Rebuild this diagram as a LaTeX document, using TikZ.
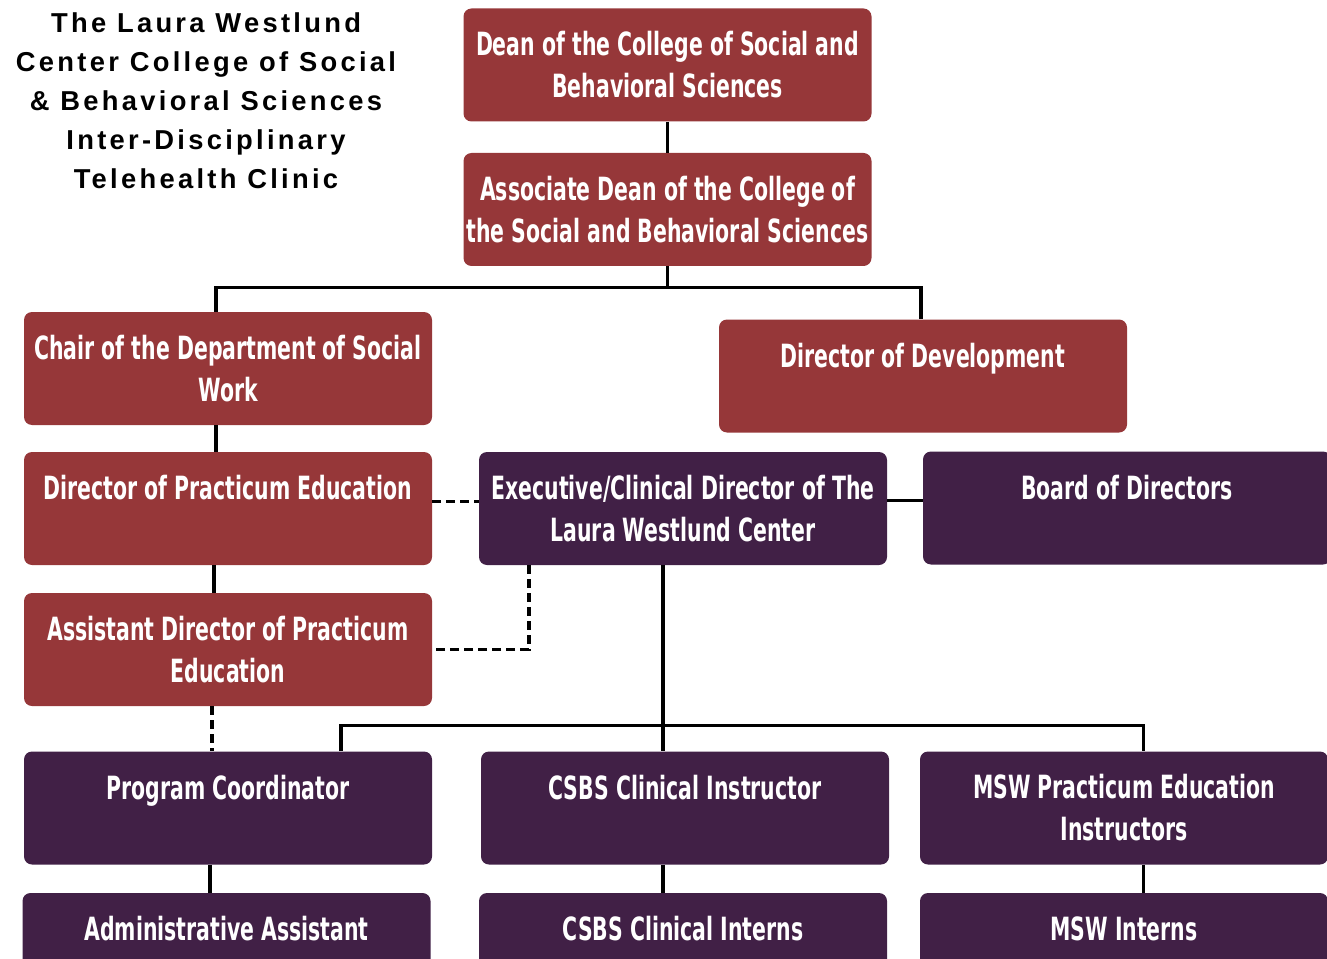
\documentclass[tikz,border=0pt]{standalone}
\usepackage{fontspec}
\setmainfont{Liberation Sans}
\newfontfamily\boxfont{DejaVu Sans Condensed Bold}[FakeStretch=0.71]
\newfontfamily\titlefont{Liberation Sans Bold}[LetterSpace=12]
\definecolor{boxred}{HTML}{963739}
\definecolor{boxpurple}{HTML}{412046}
\usetikzlibrary{positioning}

\begin{document}
\begin{tikzpicture}[x=0.75pt,y=-0.75pt,
	org/.style={rounded corners=6pt,minimum width=306pt,minimum height=84.75pt,
		inner sep=0pt,text=white,align=center,
		font=\boxfont\fontsize{24}{31.5}\selectfont},
	redbox/.style={org,fill=boxred},
	purplebox/.style={org,fill=boxpurple},
	link/.style={line width=2.4pt},
	dashlink/.style={link,dash pattern=on 6.75pt off 3.75pt}]
\useasboundingbox (0,0) rectangle (1327,959);

% heading
\node[font=\titlefont\fontsize{20.5}{29.25}\selectfont,align=center,anchor=north] (title) at (206,8)
	{The Laura Westlund\\Center College of Social\\\& Behavioral Sciences\\Inter-Disciplinary\\Telehealth Clinic};

% college side
\node[redbox] (dean) at (667.5,65) {Dean of the College of Social and\\Behavioral Sciences};
\node[redbox] (assoc) at (667.5,209.5) {Associate Dean of the College of\\the Social and Behavioral Sciences};
\node[redbox] (chair) at (228,368.5) {Chair of the Department of Social\\Work};
\node[redbox] (dev) at (923,376) {Director of Development\\\mbox{}};
\node[redbox] (prac) at (228,508.5) {Director of Practicum Education\\\mbox{}};
\node[redbox] (asst) at (228,649.5) {Assistant Director of Practicum\\Education};

% clinic side
\node[purplebox] (exec) at (683,508.5) {Executive/Clinical Director of The\\Laura Westlund Center};
\node[purplebox] (board) at (1127,508) {Board of Directors\\\mbox{}};
\node[purplebox] (prog) at (228,808) {Program Coordinator\\\mbox{}};
\node[purplebox] (csbs) at (685,808) {CSBS Clinical Instructor\\\mbox{}};
\node[purplebox] (msw) at (1124,808) {MSW Practicum Education\\Instructors};
\node[purplebox] (admin) at (226.5,949.5) {Administrative Assistant\\\mbox{}};
\node[purplebox] (interns) at (683,949.5) {CSBS Clinical Interns\\\mbox{}};
\node[purplebox] (mswint) at (1124,949.5) {MSW Interns\\\mbox{}};

% solid links
\draw[link] (dean) -- (assoc);
\draw[link] (assoc.south) -- ++(0,21) coordinate (top);
\draw[link] ([xshift=-9pt]chair.north) |- (top) -| ([xshift=-1.5pt]dev.north);
\draw[link] ([xshift=-9pt]chair.south) -- ([xshift=-9pt]prac.north);
\draw[link] ([xshift=-10.5pt]prac.south) -- ([xshift=-10.5pt]asst.north);
\draw[link] ([yshift=6pt]exec.east) -- ([yshift=6pt]exec.east -| board.west);
\draw[link] ([xshift=-15pt]exec.south) -- ++(0,160) coordinate (bus);
\draw[link] ([xshift=84.75pt]prog.north) |- (bus) -| ([xshift=14.6pt]msw.north);
\draw[link] (bus) -- (bus |- csbs.north);
\draw[link] ([xshift=-13.5pt]prog.south) -- ([xshift=-13.5pt]prog.south |- admin.north);
\draw[link] (bus |- csbs.south) -- (bus |- interns.north);
\draw[link] ([xshift=14.6pt]msw.south) -- ([xshift=14.6pt]mswint.north);

% dashed links
\draw[dashlink] ([yshift=5pt]prac.east) -- ([yshift=5pt]prac.east -| exec.west);
\draw[dashlink] ([xshift=-115.5pt]exec.south) |- (asst.east);
\draw[dashlink] ([xshift=-12pt]asst.south) -- ([xshift=-12pt]prog.north);
\end{tikzpicture}
\end{document}
